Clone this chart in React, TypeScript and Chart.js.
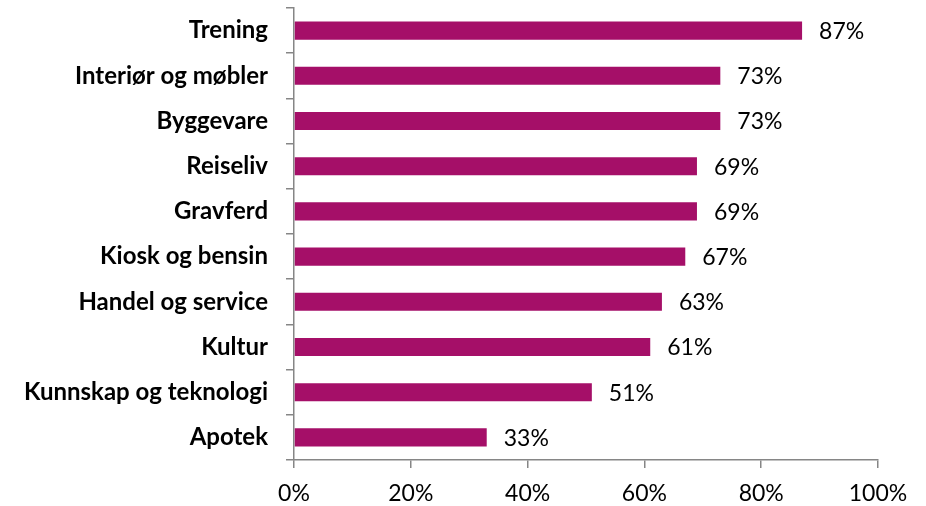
import React, { useEffect, useRef } from "react";
import { Chart, registerables } from "chart.js";

Chart.register(...registerables);

const categories = [
  "Trening",
  "Interiør og møbler",
  "Byggevare",
  "Reiseliv",
  "Gravferd",
  "Kiosk og bensin",
  "Handel og service",
  "Kultur",
  "Kunnskap og teknologi",
  "Apotek",
];
const values = [87, 73, 73, 69, 69, 67, 63, 61, 51, 33];
const xTicks = [0, 20, 40, 60, 80, 100];

const FONT = "Lato, 'Open Sans', sans-serif";
const AXIS = "#868686";

const labelPlugin = {
  id: "valueLabels",
  afterDatasetsDraw(chart: any) {
    const { ctx } = chart;
    const meta = chart.getDatasetMeta(0);
    ctx.save();
    ctx.font = `23px ${FONT}`;
    ctx.fillStyle = "#000";
    ctx.textAlign = "left";
    ctx.textBaseline = "middle";
    meta.data.forEach((bar: any, i: number) => {
      ctx.fillText(values[i] + "%", bar.x + 17, bar.y + 1);
    });
    ctx.restore();
  },
};

export default function App() {
  const ref = useRef<HTMLCanvasElement>(null);
  useEffect(() => {
    document.body.style.margin = "0";
    const chart = new Chart(ref.current!, {
      type: "bar",
      data: {
        labels: categories,
        datasets: [
          {
            data: values,
            backgroundColor: "#A50F68",
            barPercentage: 0.4,
            categoryPercentage: 1,
          },
        ],
      },
      options: {
        indexAxis: "y",
        animation: false,
        responsive: false,
        maintainAspectRatio: false,
        layout: { padding: { top: 8, right: 48, left: 0, bottom: 0 } },
        plugins: { legend: { display: false }, tooltip: { enabled: false } },
        scales: {
          x: {
            min: 0,
            max: 100,
            afterBuildTicks: (s: any) => {
              s.ticks = xTicks.map((v) => ({ value: v }));
            },
            afterFit: (s: any) => {
              s.height = 46;
              s.paddingLeft = 0;
              s.paddingRight = 0;
            },
            grid: {
              drawOnChartArea: false,
              drawTicks: true,
              tickLength: 8,
              color: AXIS,
              lineWidth: 1.5,
            },
            border: { color: AXIS, width: 1.5 },
            ticks: {
              padding: 12,
              color: "#000",
              font: { family: FONT, size: 23 },
              callback: (v: any) => v + "%",
            },
          },
          y: {
            afterFit: (s: any) => {
              s.width = 294;
              s.paddingTop = 0;
              s.paddingBottom = 0;
            },
            grid: {
              drawOnChartArea: false,
              drawTicks: true,
              tickLength: 8,
              offset: true,
              color: AXIS,
              lineWidth: 1.5,
            },
            border: { color: AXIS, width: 1.5 },
            ticks: {
              padding: 18,
              color: "#000",
              font: { family: FONT, size: 24, weight: "bold" },
            },
          },
        },
      },
      plugins: [labelPlugin],
    });
    return () => chart.destroy();
  }, []);
  return (
    <div style={{ width: 926, height: 506 }}>
      <canvas ref={ref} width={926} height={506} style={{ display: "block" }} />
    </div>
  );
}
